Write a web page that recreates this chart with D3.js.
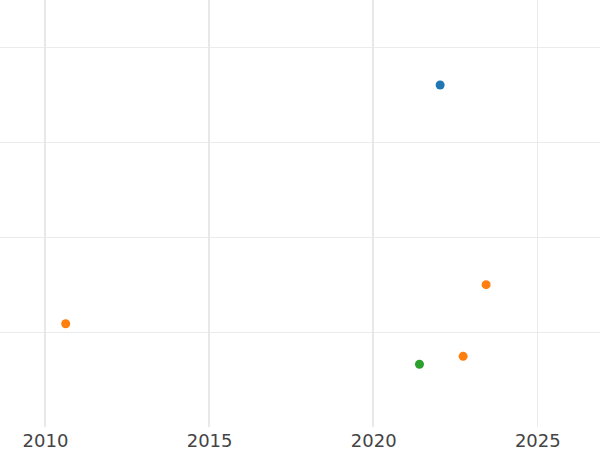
<!DOCTYPE html>
<html><head><meta charset="utf-8">
<script src="https://cdn.jsdelivr.net/npm/d3@7"></script>
<style>body{margin:0;background:#fff}svg{display:block}</style>
</head><body>
<script>
const years = [2022.04, 2010.63, 2023.44, 2022.74, 2021.41];
const values = [3.60, 1.087, 1.498, 0.744, 0.66];
const groups = ["A", "B", "B", "B", "C"];
const groupColors = {A: "#1f77b4", B: "#ff7f0e", C: "#2ca02c"};
const xTicks = [2010, 2015, 2020, 2025];
const yTicks = [1, 2, 3, 4];

const W = 600, H = 450;
const svg = d3.select("body").append("svg").attr("width", W).attr("height", H);
const x = d3.scaleLinear().domain([2010, 2025]).range([45, 537.3]);
const y = d3.scaleLinear().domain([0, 4]).range([427, 47]);

svg.append("g").selectAll("line").data(yTicks).join("line")
  .attr("x1", 0).attr("x2", W)
  .attr("y1", d => Math.round(y(d)) + 0.5).attr("y2", d => Math.round(y(d)) + 0.5)
  .attr("stroke", "#ebebeb").attr("stroke-width", 1);

svg.append("g").selectAll("line").data(xTicks).join("line")
  .attr("x1", d => d === 2025 ? Math.round(x(d)) + 0.5 : Math.round(x(d)))
  .attr("x2", d => d === 2025 ? Math.round(x(d)) + 0.5 : Math.round(x(d)))
  .attr("y1", 0).attr("y2", 427)
  .attr("stroke", d => d === 2025 ? "#ebebeb" : "#e8e8e8")
  .attr("stroke-width", d => d === 2025 ? 1 : 2);

const xAxis = svg.append("g").attr("transform", "translate(0,427)")
  .call(d3.axisBottom(x).tickValues(xTicks).tickFormat(d3.format("d")).tickSize(0).tickPadding(7.5));
xAxis.select(".domain").remove();
xAxis.selectAll("text").attr("font-family", "DejaVu Sans").attr("font-size", 18).attr("fill", "#444");

svg.append("g").selectAll("circle").data(years.map((v, i) => ({x: v, y: values[i], g: groups[i]}))).join("circle")
  .attr("cx", d => x(d.x)).attr("cy", d => y(d.y)).attr("r", 4.5)
  .attr("fill", d => groupColors[d.g]);
</script>
</body></html>
